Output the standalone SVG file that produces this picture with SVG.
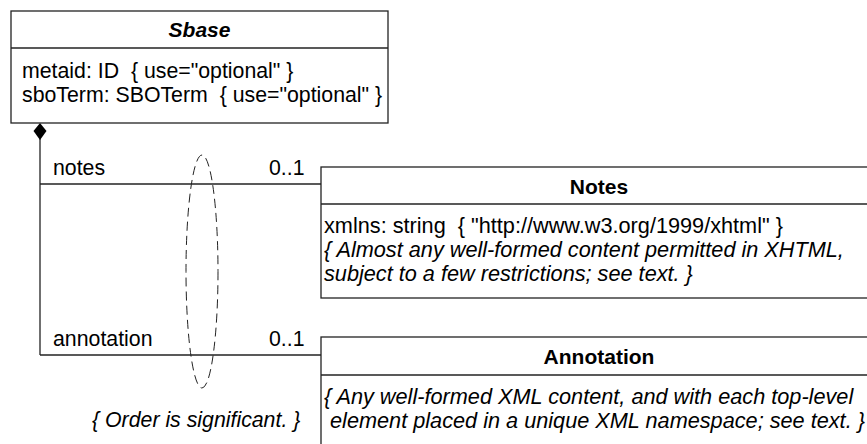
<svg xmlns="http://www.w3.org/2000/svg" width="867" height="444" viewBox="0 0 867 444">
<style>
text{font-family:"Liberation Sans",Arial,Helvetica,sans-serif;font-size:21.3px;fill:#000}
.t{font-weight:bold;text-anchor:middle;font-size:21px}
.i{font-style:italic}
.b{font-size:21.7px}
.box{fill:#fff;stroke:#222;stroke-width:1.3}
.ln{stroke:#222;stroke-width:1.3;fill:none}
</style>
<rect width="867" height="444" fill="#fff"/>
<g id="connectors">
<line class="ln" x1="40" y1="139" x2="40" y2="355"/>
<line class="ln" x1="40" y1="184" x2="321" y2="184"/>
<line class="ln" x1="40" y1="355" x2="321" y2="355"/>
<polygon points="40,123 46.5,131 40,140 33.5,131" fill="#000"/>
<text x="53" y="175">notes</text>
<text x="269" y="175">0..1</text>
<text x="53" y="346">annotation</text>
<text x="269" y="346">0..1</text>
</g>
<g id="order-constraint">
<ellipse cx="202" cy="271.5" rx="16" ry="116.5" fill="none" stroke="#222" stroke-width="1" stroke-dasharray="9,5"/>
<text class="i" x="92" y="427">{ Order is significant. }</text>
</g>
<g id="Sbase">
<rect class="box" x="11" y="11" width="377" height="112"/>
<line class="ln" x1="11" y1="48" x2="388" y2="48"/>
<text class="t i" x="199.5" y="37">Sbase</text>
<text x="22" y="78" xml:space="preserve">metaid: ID  { use="optional" }</text>
<text x="22" y="102" xml:space="preserve">sboTerm: SBOTerm  { use="optional" }</text>
</g>
<g id="Notes">
<rect class="box" x="321" y="167" width="600" height="131"/>
<line class="ln" x1="321" y1="204" x2="921" y2="204"/>
<text class="t" x="599" y="194">Notes</text>
<text class="b" x="324" y="233" xml:space="preserve">xmlns: string  { "http://www.w3.org/1999/xhtml" }</text>
<text class="b i" x="324" y="257">{ Almost any well-formed content permitted in XHTML,</text>
<text class="b i" x="324" y="281">subject to a few restrictions; see text. }</text>
</g>
<g id="Annotation">
<rect class="box" x="321" y="337" width="600" height="130"/>
<line class="ln" x1="321" y1="375" x2="921" y2="375"/>
<text class="t" x="599" y="364">Annotation</text>
<text class="b i" x="324" y="404">{ Any well-formed XML content, and with each top-level</text>
<text class="b i" x="324" y="428" xml:space="preserve"> element placed in a unique XML namespace; see text. }</text>
</g>
</svg>
